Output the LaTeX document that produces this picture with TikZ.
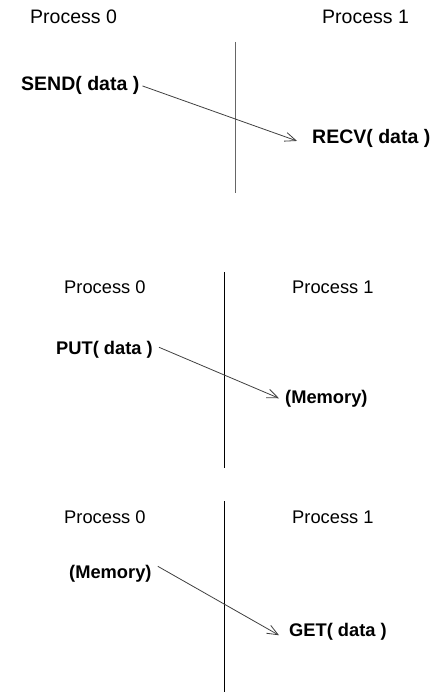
\documentclass[tikz,border=0pt]{standalone}
\usepackage{fontspec}
\setmainfont{Liberation Sans}
\usetikzlibrary{arrows.meta}
\begin{document}
\begin{tikzpicture}[x=1pt,y=-1pt,
  lbl/.style={inner sep=0pt,anchor=base west,text=black},
  bigtxt/.style={lbl,font=\fontsize{19.5}{22}\selectfont},
  smalltxt/.style={lbl,font=\fontsize{18.3}{21}\selectfont},
  divider/.style={line width=0.9pt},
  msg/.style={line width=0.8pt,draw=black!75,-{Straight Barb[length=11pt,width=9pt,line width=0.8pt]}}]
\useasboundingbox (0,0) rectangle (444,692);

% send / receive
\node[bigtxt] (p0a) at (30,24) {Process 0};
\node[bigtxt] (p1a) at (322,24) {Process 1};
\coordinate (ta) at (235.5,42);
\coordinate (ba) at (235.5,193);
\draw[divider,draw=black!60] (ta) -- (ba);
\node[bigtxt,font=\fontsize{19.5}{22}\selectfont\bfseries] (send) at (21,91) {SEND( data )};
\node[bigtxt,font=\fontsize{19.5}{22}\selectfont\bfseries] (recv) at (312,144) {RECV( data )};
\draw[msg] ([xshift=3pt]send.east) -- ([xshift=-15pt,yshift=-2pt]recv.west);

% put
\node[smalltxt] (p0b) at (64,293) {Process 0};
\node[smalltxt] (p1b) at (292,293) {Process 1};
\coordinate (tb) at (224.3,272);
\coordinate (bb) at (224.3,468);
\draw[divider] (tb) -- (bb);
\node[smalltxt,font=\fontsize{18.3}{21}\selectfont\bfseries] (put) at (56,354) {PUT( data )};
\node[smalltxt,font=\fontsize{18.3}{21}\selectfont\bfseries] (memb) at (285,403) {(Memory)};
\draw[msg] ([xshift=6pt,yshift=2pt]put.east) -- ([xshift=-6pt]memb.west);

% get
\node[smalltxt] (p0c) at (64,523) {Process 0};
\node[smalltxt] (p1c) at (292,523) {Process 1};
\coordinate (tc) at (224.3,501);
\coordinate (bc) at (224.3,692);
\draw[divider] (tc) -- (bc);
\node[smalltxt,font=\fontsize{18.3}{21}\selectfont\bfseries] (memc) at (69,578) {(Memory)};
\node[smalltxt,font=\fontsize{18.3}{21}\selectfont\bfseries] (get) at (289,636) {GET( data )};
\draw[msg] ([xshift=6pt,yshift=7pt]memc.east) -- ([xshift=-10pt,yshift=-4pt]get.west);
\end{tikzpicture}
\end{document}
